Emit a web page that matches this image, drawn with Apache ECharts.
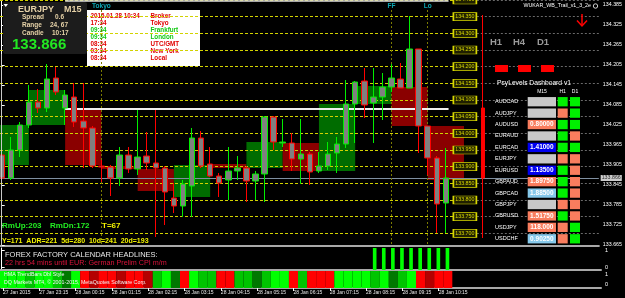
<!DOCTYPE html>
<html>
<head>
<meta charset="utf-8">
<script src="https://cdn.jsdelivr.net/npm/echarts@6.0.0/dist/echarts.min.js"></script>
<style>
  html, body { margin: 0; padding: 0; background: #000; }
  #chart { width: 625px; height: 298px; }
</style>
</head>
<body>
<div id="chart"></div>
<script>
// EURJPY M15, one candle per slot from 27 Jan 22:15 to 28 Jan 10:30
const opens = [133.935, 133.866, 133.950, 134.025, 134.094, 134.076, 134.166, 134.076, 134.109, 134.037,
  134.016, 133.902, 133.899, 133.866, 133.935, 133.893, 133.932, 133.911, 133.896, 133.806,
  133.782, 133.842, 133.986, 133.908, 133.872, 133.860, 133.887, 133.896, 133.857, 133.878,
  134.049, 133.971, 133.971, 133.923, 133.938, 133.887, 133.902, 133.941, 133.968, 134.088,
  134.157, 134.091, 134.109, 134.139, 134.163, 134.136, 134.253, 134.022, 133.926, 133.791]
const closes = [133.866, 133.950, 134.025, 134.094, 134.076, 134.163, 134.124, 134.115, 134.034, 134.016,
  133.902, 133.899, 133.866, 133.935, 133.893, 133.929, 133.911, 133.896, 133.824, 133.782,
  133.848, 133.986, 133.902, 133.872, 133.851, 133.887, 133.896, 133.857, 133.878, 134.049,
  133.974, 133.974, 133.923, 133.938, 133.884, 133.902, 133.938, 133.968, 134.088, 134.154,
  134.085, 134.109, 134.139, 134.166, 134.136, 134.253, 134.022, 133.926, 133.788, 133.866]
const lows = [133.860, 133.860, 133.929, 134.016, 134.061, 134.064, 134.115, 134.025, 134.019, 133.896,
  133.896, 133.854, 133.812, 133.842, 133.881, 133.875, 133.890, 133.689, 133.725, 133.761,
  133.749, 133.749, 133.896, 133.869, 133.809, 133.800, 133.860, 133.794, 133.800, 133.794,
  133.950, 133.959, 133.887, 133.848, 133.845, 133.881, 133.890, 133.881, 133.956, 133.971,
  134.046, 133.971, 134.040, 134.124, 134.136, 134.136, 133.941, 133.875, 133.701, 133.701]
const highs = [133.944, 133.989, 134.034, 134.145, 134.133, 134.208, 134.199, 134.130, 134.151, 134.151,
  134.022, 133.920, 133.905, 133.959, 133.959, 134.070, 134.004, 134.070, 133.902, 133.851,
  133.860, 134.016, 134.007, 133.959, 133.881, 133.959, 133.932, 133.902, 133.887, 134.052,
  134.052, 134.043, 134.001, 134.043, 133.944, 133.944, 133.974, 133.989, 134.160, 134.157,
  134.196, 134.196, 134.181, 134.208, 134.211, 134.352, 134.253, 134.022, 133.932, 133.956]

// hourly boxes (first candle slot of each hour)
const hourStart = [-1, 3, 7, 11, 15, 19, 23, 27, 31, 35, 39, 43, 47]
const hourOpen = [133.905, 134.025, 134.076, 133.902, 133.893, 133.809, 133.908, 133.896, 133.971, 133.887, 134.088, 134.139, 134.022]
const hourClose = [134.025, 134.130, 133.905, 133.893, 133.827, 133.905, 133.896, 133.974, 133.887, 134.088, 134.142, 134.022, 133.860]

// higher timeframe candle drawn next to the dashboard
const htfCandle = [53.1, 134.076, 133.866, 133.686, 134.355]

const levelPrices = [134.400, 134.350, 134.300, 134.250, 134.200, 134.150, 134.100, 134.050,
  134.000, 133.950, 133.900, 133.850, 133.800, 133.750, 133.700]
const axisPrices = [134.385, 134.325, 134.265, 134.205, 134.145, 134.085, 134.025,
  133.965, 133.905, 133.845, 133.785, 133.725, 133.665]
const lastPrice = 133.866
const dayHigh = 134.397
const dayRef = 134.073

const sessionIdx = [11, 43, 47]
const sessionNames = ['Tokyo', 'FF', 'Lo']

const timeTickIdx = [0, 4, 8, 12, 16, 20, 24, 28, 32, 36, 40, 44, 48]
const timeLabels = ['27 Jan 2015', '27 Jan 23:15', '28 Jan 00:15', '28 Jan 01:15', '28 Jan 02:15',
  '28 Jan 03:15', '28 Jan 04:15', '28 Jan 05:15', '28 Jan 06:15', '28 Jan 07:15',
  '28 Jan 08:15', '28 Jan 09:15', '28 Jan 10:15']

// sub window 1 (news bars) and sub window 2 (trend colour bars)
const ffBars = [0, 0, 0, 0, 0, 0, 0, 0, 0, 0, 0, 0, 0, 0, 0, 0, 0, 0, 0, 0,
  0, 0, 0, 0, 0, 0, 0, 0, 0, 0, 0, 0, 0, 0, 0, 0, 0, 0, 0, 0,
  0, 1, 1, 1, 1, 1, 1, 1, 1, 1]
const trendCodes = ['G', 'G', 'G', 'g', 'G', 'G', 'g', 'D', 'G', 'R',
  'r', 'R', 'R', 'r', 'R', 'R', 'r', 'g', 'G', 'D',
  'R', 'G', 'g', 'g', 'R', 'R', 'g', 'g', 'D', 'g',
  'G', 'G', 'R', 'g', 'R', 'R', 'R', 'G', 'G', 'G',
  'G', 'g', 'G', 'D', 'g', 'G', 'R', 'r', 'R', 'R']

// PsyLevels dashboard
const pairs = ['AUDCAD', 'AUDJPY', 'AUDUSD', 'EURAUD', 'EURCAD', 'EURJPY', 'EURUSD',
  'GBPAUD', 'GBPCAD', 'GBPJPY', 'GBPUSD', 'USDJPY', 'USDCHF']
const m15Vals = ['', '', '0.80000', '', '1.41000', '', '1.13500', '1.89750', '1.88500', '', '1.51750', '118.000', '0.90250']
const m15State = ['n', 'n', 's', 'n', 'b', 'n', 'b', 's', 'l', 'n', 's', 's', 'l']
const h1State = ['g', 's', 'g', 'g', 'g', 's', 'g', 'g', 'g', 's', 'g', 's', 's']
const d1State = ['g', 'g', 'g', 's', 'g', 's', 's', 's', 's', 's', 's', 'g', 'g']

// text blocks
const zoneTimes = ['2015.01.28 10:34', '17:34', '09:34', '09:34', '08:34', '03:34', '08:34']
const zoneNames = ['Broker', 'Tokyo', 'Frankfurt', 'London', 'UTC/GMT', 'New York', 'Local']
const zoneOpen = [false, false, true, true, false, false, false]

const FONT = '"Liberation Sans", Arial, sans-serif'
const xMin = -0.187
const xMax = 65.88
const cellColors = { n: '#c8c8c8', s: '#f97d5e', b: '#0000f0', l: '#86c8ea', g: '#00f000' }
const trendColors = { G: '#00ff00', g: '#00c400', D: '#007800', R: '#ff0000', r: '#b40000' }

const chart = echarts.init(document.getElementById('chart'), null, { renderer: 'canvas' })

const txt = (x, y, text, fill, size, opts = {}) => ({
  type: 'text',
  x,
  y,
  z: opts.z ?? 50,
  silent: true,
  style: {
    text,
    fill,
    fontSize: size,
    fontFamily: FONT,
    fontWeight: opts.bold ? 'bold' : 'normal',
    align: opts.align || 'left',
    verticalAlign: 'middle'
  }
})

const hiddenX = (gridIndex) => ({
  gridIndex,
  type: 'value',
  min: xMin,
  max: xMax,
  axisLine: { show: true, onZero: false, lineStyle: { color: '#a8a8a8', width: 2 } },
  axisTick: { show: false },
  axisLabel: { show: false },
  splitLine: { show: false }
})

const subY = (gridIndex, min, max) => ({
  gridIndex,
  type: 'value',
  position: 'right',
  min,
  max,
  axisLine: { show: true, lineStyle: { color: '#fff' } },
  axisTick: { show: true, length: 3, customValues: [0, 1], lineStyle: { color: '#fff' } },
  axisLabel: { customValues: [0, 1], color: '#fff', fontSize: 5.5, fontFamily: FONT, margin: 4 },
  splitLine: { show: false }
})

const graphics = [
  // symbol info panel
  { type: 'rect', z: 100, shape: { x: 3, y: 2, width: 84, height: 52, r: 2 }, style: { fill: '#1c1c1c' } },
  { type: 'polygon', z: 101, shape: { points: [[3.5, 4], [8, 4], [5.75, 7]] }, style: { fill: '#fff' } },
  txt(18, 9.5, 'EURJPY', '#e6d2a8', 9, { bold: true, z: 101 }),
  txt(64, 9.5, 'M15', '#e6d2a8', 9, { bold: true, z: 101 }),
  txt(22, 17.5, 'Spread', '#e6d2a8', 6.5, { bold: true, z: 101 }),
  txt(55, 17.5, '0.6', '#e6d2a8', 6.5, { bold: true, z: 101 }),
  txt(22, 25.5, 'Range', '#e6d2a8', 6.5, { bold: true, z: 101 }),
  txt(50, 25.5, '24, 67', '#e6d2a8', 6.5, { bold: true, z: 101 }),
  txt(22, 33.5, 'Candle', '#e6d2a8', 6.5, { bold: true, z: 101 }),
  txt(52, 33.5, '10:17', '#e6d2a8', 6.5, { bold: true, z: 101 }),
  txt(12, 45, '133.866', '#22e822', 15, { bold: true, z: 101 }),
  // session clock panel (lines draw over it)
  { type: 'rect', z: 0, shape: { x: 87, y: 10, width: 113, height: 56 }, style: { fill: '#fff' } },
  // bottom-left stats
  txt(2, 226, 'RmUp:203', '#22ee22', 8, { bold: true }),
  txt(50, 226, 'RmDn:172', '#22ee22', 8, { bold: true }),
  txt(102, 226, 'T=67', '#f0f000', 8, { bold: true }),
  txt(2, 241.5, 'Y=171  ADR=221  5d=280  10d=241  20d=193', '#f0f000', 7, { bold: true }),
  // calendar headline
  txt(5, 255, 'FOREX FACTORY CALENDAR HEADLINES:', '#e8e8e8', 7.5),
  txt(5, 263.5, '22 hrs 54 mins until EUR: German Prelim CPI m/m', '#dc143c', 7.2),
  // sub window caption
  txt(4, 275, 'HMA TrendBars Dbl Style', '#f4f4f4', 5.3, { z: 60 }),
  txt(4, 283, 'DQ Markets MT4, \u00a9 2001-2015, MetaQuotes Software Corp.', '#f4f4f4', 5.3, { z: 60 }),
  // expert advisor label and signal arrow
  txt(591, 6, 'WUKAR_WB_Trail_v1_3_2e', '#fff', 5.3, { align: 'right' }),
  { type: 'circle', z: 50, shape: { cx: 595.5, cy: 6, r: 2.2 }, style: { fill: 'none', stroke: '#fff', lineWidth: 0.8 } },
  { type: 'line', z: 50, shape: { x1: 582, y1: 14, x2: 582, y2: 26 }, style: { stroke: '#ff0000', lineWidth: 1.5 } },
  { type: 'polyline', z: 50, shape: { points: [[577, 20.5], [582, 26], [587, 20.5]] }, style: { stroke: '#ff0000', lineWidth: 1.5, fill: 'none' } },
  // dashboard header
  txt(490, 42, 'H1', '#9a9a9a', 9.5, { bold: true }),
  txt(513, 42, 'H4', '#9a9a9a', 9.5, { bold: true }),
  txt(537, 42, 'D1', '#9a9a9a', 9.5, { bold: true }),
  { type: 'rect', z: 50, shape: { x: 495, y: 65, width: 13, height: 7 }, style: { fill: '#ff0000' } },
  { type: 'rect', z: 50, shape: { x: 518, y: 65, width: 13, height: 7 }, style: { fill: '#ff0000' } },
  { type: 'rect', z: 50, shape: { x: 541, y: 65, width: 13, height: 7 }, style: { fill: '#ff0000' } },
  txt(534, 83, 'PsyLevels Dashboard v1', '#fff', 6.7, { align: 'center' }),
  txt(542, 92, 'M15', '#fff', 5, { align: 'center' }),
  txt(562.7, 92, 'H1', '#fff', 5, { align: 'center' }),
  txt(575, 92, 'D1', '#fff', 5, { align: 'center' }),
  // left border of chart
  { type: 'line', z: 50, shape: { x1: 1.5, y1: 54, x2: 1.5, y2: 246 }, style: { stroke: '#c8c8c8', lineWidth: 1 } }
]

zoneTimes.forEach((t, k) => {
  const col = zoneOpen[k] ? '#10c810' : '#e00000'
  graphics.push(txt(90.5, 16 + 7.1 * k, t, col, 6.3, { bold: true, z: 1 }))
  graphics.push(txt(150.5, 16 + 7.1 * k, zoneNames[k], col, 6.3, { bold: true, z: 1 }))
})

const option = {
  backgroundColor: '#000',
  animation: false,
  grid: [
    { left: 0, top: 0, width: 601, height: 246 },
    { left: 0, top: 248, width: 601, height: 22 },
    { left: 0, top: 271, width: 601, height: 17 },
    { left: 490, top: 96, width: 92, height: 148.5 }
  ],
  xAxis: [
    hiddenX(0),
    hiddenX(1),
    {
      gridIndex: 2,
      type: 'value',
      min: xMin,
      max: xMax,
      axisLine: { show: true, onZero: false, lineStyle: { color: '#a8a8a8', width: 2 } },
      axisTick: { show: true, length: 3, customValues: timeTickIdx, lineStyle: { color: '#fff' } },
      axisLabel: {
        customValues: timeTickIdx,
        formatter: (v) => timeLabels[timeTickIdx.indexOf(Math.round(v))] || '',
        align: 'left',
        margin: 2,
        color: '#e8e8e8',
        fontSize: 5,
        fontFamily: FONT
      },
      splitLine: { show: false }
    },
    { gridIndex: 3, type: 'value', min: 0, max: 92, show: false }
  ],
  yAxis: [
    {
      gridIndex: 0,
      type: 'value',
      position: 'right',
      min: 133.662,
      max: 134.400,
      axisLine: { show: true, lineStyle: { color: '#fff' } },
      axisTick: { show: true, length: 3, customValues: axisPrices, lineStyle: { color: '#fff' } },
      axisLabel: {
        customValues: axisPrices,
        formatter: (v) => v.toFixed(3),
        color: '#fff',
        fontSize: 5.3,
        fontFamily: FONT,
        margin: 4
      },
      splitLine: { show: false }
    },
    subY(1, -0.15, 1.15),
    subY(2, -0.3, 1.3),
    { gridIndex: 3, type: 'category', data: pairs, inverse: true, show: false }
  ],
  graphic: { elements: graphics },
  series: [
    {
      // hourly open/close boxes
      type: 'custom',
      xAxisIndex: 0,
      yAxisIndex: 0,
      z: 1,
      clip: true,
      silent: true,
      data: hourStart.map((s, i) => [s, hourOpen[i], hourClose[i]]),
      renderItem: (params, api) => {
        const s = api.value(0)
        const o = api.value(1)
        const c = api.value(2)
        const p1 = api.coord([s, Math.max(o, c)])
        const p2 = api.coord([s + 4, Math.min(o, c)])
        return {
          type: 'rect',
          shape: { x: p1[0], y: p1[1], width: p2[0] - p1[0], height: Math.max(p2[1] - p1[1], 2) },
          style: { fill: c >= o ? '#006c00' : '#8a0000' }
        }
      }
    },
    {
      // psychological levels
      type: 'lines',
      coordinateSystem: 'cartesian2d',
      xAxisIndex: 0,
      yAxisIndex: 0,
      z: 2,
      silent: true,
      lineStyle: { color: '#d2d200', width: 1, type: [3, 2], opacity: 1 },
      data: levelPrices.map((p) => ({ coords: [[xMin, p], [49.83, p]] }))
    },
    {
      type: 'lines',
      coordinateSystem: 'cartesian2d',
      xAxisIndex: 0,
      yAxisIndex: 0,
      z: 2,
      silent: true,
      lineStyle: { color: '#6a6a6a', width: 1, type: [2, 2], opacity: 1 },
      data: levelPrices.map((p) => ({ coords: [[52.42, p], [xMax, p]] }))
    },
    {
      // day lines and bid line
      type: 'lines',
      coordinateSystem: 'cartesian2d',
      xAxisIndex: 0,
      yAxisIndex: 0,
      z: 3,
      silent: true,
      data: [
        { coords: [[7, dayHigh], [49.3, dayHigh]], lineStyle: { color: '#e0e0e0', width: 1.5, opacity: 1 } },
        { coords: [[7, dayRef], [49.3, dayRef]], lineStyle: { color: '#f0f0f0', width: 2, opacity: 1 } },
        { coords: [[xMin, lastPrice], [xMax, lastPrice]], lineStyle: { color: '#7f8fa0', width: 1, opacity: 1 } }
      ]
    },
    {
      // session opens
      type: 'lines',
      coordinateSystem: 'cartesian2d',
      xAxisIndex: 0,
      yAxisIndex: 0,
      z: 3,
      silent: true,
      lineStyle: { color: '#7a7a00', width: 1, type: [2, 2], opacity: 1 },
      data: sessionIdx.map((i) => ({ coords: [[i, 134.370], [i, 133.662]] }))
    },
    {
      type: 'scatter',
      xAxisIndex: 0,
      yAxisIndex: 0,
      z: 4,
      silent: true,
      symbolSize: 0,
      data: sessionIdx.map((i, k) => ({ name: sessionNames[k], value: [i, 134.382] })),
      label: {
        show: true,
        position: 'inside',
        formatter: '{b}',
        color: '#10d0e0',
        fontSize: 6.5,
        fontWeight: 'bold',
        fontFamily: FONT
      }
    },
    {
      type: 'candlestick',
      xAxisIndex: 0,
      yAxisIndex: 0,
      z: 5,
      silent: true,
      barWidth: 6,
      dimensions: ['idx', 'open', 'close', 'lowest', 'highest'],
      encode: { x: 0, y: [1, 2, 3, 4] },
      data: opens.map((o, i) => [i, o, closes[i], lows[i], highs[i]]),
      itemStyle: {
        color: '#808080',
        color0: '#808080',
        borderColor: '#00ee00',
        borderColor0: '#ff0000',
        borderWidth: 1
      }
    },
    {
      type: 'candlestick',
      xAxisIndex: 0,
      yAxisIndex: 0,
      z: 5,
      silent: true,
      barWidth: 3,
      dimensions: ['idx', 'open', 'close', 'lowest', 'highest'],
      encode: { x: 0, y: [1, 2, 3, 4] },
      data: [htfCandle],
      itemStyle: { color: '#ff0000', color0: '#ff0000', borderColor: '#ff0000', borderColor0: '#ff0000', borderWidth: 1 }
    },
    {
      // level price tags
      type: 'scatter',
      xAxisIndex: 0,
      yAxisIndex: 0,
      z: 6,
      silent: true,
      symbol: 'rect',
      symbolSize: [23, 8],
      data: levelPrices.map((p) => [51.1, p]),
      itemStyle: { color: '#202000', borderColor: '#d8d800', borderWidth: 1, opacity: 1 },
      label: {
        show: true,
        position: 'inside',
        formatter: (p) => p.value[1].toFixed(3),
        color: '#d8d800',
        fontSize: 5.3,
        fontFamily: FONT
      }
    },
    {
      // current bid tag on the price scale
      type: 'scatter',
      xAxisIndex: 0,
      yAxisIndex: 0,
      z: 7,
      silent: true,
      symbolSize: 0,
      data: [[xMax - 0.02, lastPrice]],
      label: {
        show: true,
        position: 'right',
        distance: 2,
        formatter: (p) => p.value[1].toFixed(3),
        color: '#000',
        backgroundColor: '#fff',
        padding: [1, 1, 0, 1],
        fontSize: 5.3,
        fontFamily: FONT
      }
    },
    {
      type: 'custom',
      xAxisIndex: 1,
      yAxisIndex: 1,
      silent: true,
      data: ffBars.map((v, i) => [i, v]).filter((d) => d[1] > 0),
      renderItem: (params, api) => {
        const top = api.coord([api.value(0), 1.15])
        const bot = api.coord([api.value(0), -0.15])
        const w = api.size([1, 0])[0] * 0.4
        return {
          type: 'rect',
          shape: { x: top[0] - w / 2, y: top[1], width: w, height: bot[1] - top[1] },
          style: { fill: '#00ff00' }
        }
      }
    },
    {
      type: 'custom',
      xAxisIndex: 2,
      yAxisIndex: 2,
      silent: true,
      data: trendCodes.map((c, i) => [i, 1]),
      renderItem: (params, api) => {
        const top = api.coord([api.value(0) - 0.5, 1.3])
        const bot = api.coord([api.value(0) + 0.5, -0.3])
        return {
          type: 'rect',
          shape: { x: top[0], y: top[1], width: bot[0] - top[0], height: bot[1] - top[1] },
          style: { fill: trendColors[trendCodes[params.dataIndex]] }
        }
      }
    },
    {
      // dashboard rows
      type: 'custom',
      xAxisIndex: 3,
      yAxisIndex: 3,
      z: 20,
      silent: true,
      data: pairs.map((p, i) => [0, i]),
      renderItem: (params, api) => {
        const i = params.dataIndex
        const yc = api.coord([0, i])[1]
        const x = (v) => api.coord([v, i])[0]
        const h = 9.3
        const cell = (x0, w, state) => ({
          type: 'rect',
          shape: { x: x(x0), y: yc - h / 2, width: w, height: h },
          style: { fill: cellColors[state] }
        })
        return {
          type: 'group',
          children: [
            {
              type: 'text',
              x: x(5),
              y: yc,
              style: { text: pairs[i], fill: '#fff', fontSize: 5.5, fontFamily: FONT, verticalAlign: 'middle' }
            },
            cell(37.7, 28.3, m15State[i]),
            {
              type: 'text',
              x: x(51.85),
              y: yc,
              style: {
                text: m15Vals[i],
                fill: '#fff',
                fontSize: 6.5,
                fontWeight: 'bold',
                fontFamily: FONT,
                align: 'center',
                verticalAlign: 'middle'
              }
            },
            cell(67.7, 10, h1State[i]),
            cell(80, 10, d1State[i])
          ]
        }
      }
    }
  ]
}

chart.setOption(option)
</script>
</body>
</html>
